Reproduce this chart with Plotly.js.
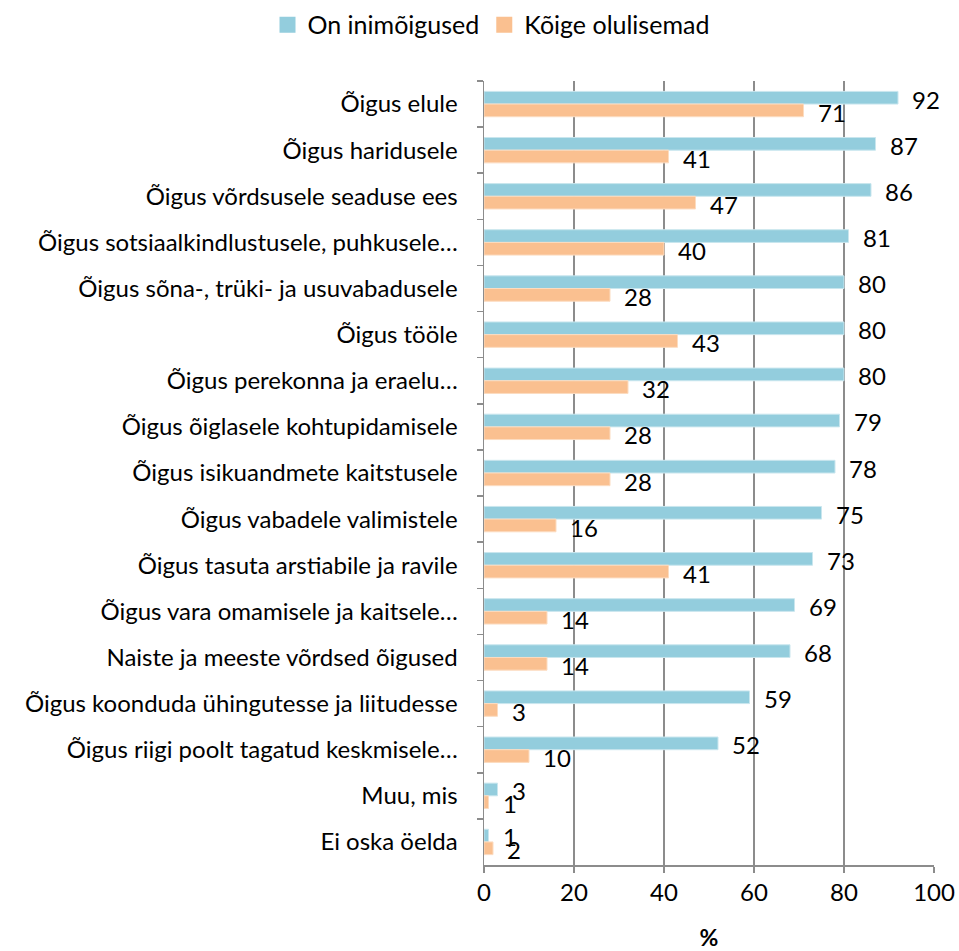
<!DOCTYPE html>
<html>
<head>
<meta charset="utf-8">
<script src="https://cdn.plot.ly/plotly-3.0.1.min.js"></script>
<style>html,body{margin:0;padding:0;background:#fff;}#chart{width:959px;height:951px;}</style>
</head>
<body>
<div id="chart"></div>
<script>
const categories = [
  "Õigus elule",
  "Õigus haridusele",
  "Õigus võrdsusele seaduse ees",
  "Õigus sotsiaalkindlustusele, puhkusele…",
  "Õigus sõna-, trüki- ja usuvabadusele",
  "Õigus tööle",
  "Õigus perekonna ja eraelu…",
  "Õigus õiglasele kohtupidamisele",
  "Õigus isikuandmete kaitstusele",
  "Õigus vabadele valimistele",
  "Õigus tasuta arstiabile ja ravile",
  "Õigus vara omamisele ja kaitsele…",
  "Naiste ja meeste võrdsed õigused",
  "Õigus koonduda ühingutesse ja liitudesse",
  "Õigus riigi poolt tagatud keskmisele…",
  "Muu, mis",
  "Ei oska öelda"
];
const seriesNames = ["On inimõigused", "Kõige olulisemad"];
const onInimoigused = [92, 87, 86, 81, 80, 80, 80, 79, 78, 75, 73, 69, 68, 59, 52, 3, 1];
const koigeOlulisemad = [71, 41, 47, 40, 28, 43, 32, 28, 28, 16, 41, 14, 14, 3, 10, 1, 2];
const xTicks = [0, 20, 40, 60, 80, 100];

const FONT = "Lato, 'Open Sans', sans-serif";
const FS = 24;
const blue = "#93CDDD";
const orange = "#FAC090";

const traces = [
  {type: "bar", orientation: "h", name: seriesNames[0], y: categories, x: onInimoigused,
   marker: {color: blue, line: {color: "#c9e6ee", width: 1}}, showlegend: false},
  {type: "bar", orientation: "h", name: seriesNames[1], y: categories, x: koigeOlulisemad,
   marker: {color: orange, line: {color: "#fcdcc0", width: 1}}, showlegend: false},
  {type: "scatter", mode: "markers", name: seriesNames[0], x: [null], y: [null],
   marker: {symbol: "square", size: 16, color: blue}, showlegend: true},
  {type: "scatter", mode: "markers", name: seriesNames[1], x: [null], y: [null],
   marker: {symbol: "square", size: 16, color: orange}, showlegend: true}
];

const annotations = [];
categories.forEach((c, i) => {
  annotations.push({x: onInimoigused[i], y: c, xref: "x", yref: "y", text: String(onInimoigused[i]),
    showarrow: false, xanchor: "left", yanchor: "middle", xshift: 12, yshift: 5,
    font: {family: FONT, size: FS, color: "#000"}});
  annotations.push({x: koigeOlulisemad[i], y: c, xref: "x", yref: "y", text: String(koigeOlulisemad[i]),
    showarrow: false, xanchor: "left", yanchor: "middle", xshift: 12, yshift: -8,
    font: {family: FONT, size: FS, color: "#000"}});
});

const layout = {
  width: 959, height: 951,
  paper_bgcolor: "#fff", plot_bgcolor: "#fff",
  margin: {l: 484, r: 25, t: 81, b: 86, pad: 0},
  barmode: "group", bargap: 0.45, bargroupgap: 0,
  font: {family: FONT, size: FS, color: "#000"},
  showlegend: true,
  legend: {orientation: "h", xref: "container", yref: "container", x: 0.512, y: 0.998,
    xanchor: "center", yanchor: "top", font: {family: FONT, size: 25, color: "#000"},
    traceorder: "normal", itemsizing: "trace"},
  xaxis: {range: [0, 100], tickvals: xTicks, ticktext: xTicks.map(String),
    showgrid: true, gridcolor: "#8c8c8c", gridwidth: 1.5, zeroline: false,
    showline: true, linecolor: "#8c8c8c", linewidth: 1.5,
    ticks: "outside", ticklen: 6, tickcolor: "#8c8c8c", tickwidth: 1.5,
    tickfont: {family: FONT, size: FS, color: "#000"},
    title: {text: "<b>%</b>", font: {family: FONT, size: 23, color: "#000"}, standoff: 24},
    fixedrange: true},
  yaxis: {type: "category", categoryorder: "array", categoryarray: categories,
    range: [categories.length - 0.5, -0.5], autorange: false, tickson: "boundaries",
    showgrid: false, zeroline: false,
    showline: true, linecolor: "#8c8c8c", linewidth: 1.5,
    ticks: "outside", ticklen: 6, tickcolor: "#8c8c8c", tickwidth: 1.5,
    tickfont: {family: FONT, size: FS, color: "#000"}, ticklabelstandoff: 20,
    fixedrange: true},
  annotations: annotations
};

Plotly.newPlot("chart", traces, layout, {displayModeBar: false, staticPlot: true});
</script>
</body>
</html>
